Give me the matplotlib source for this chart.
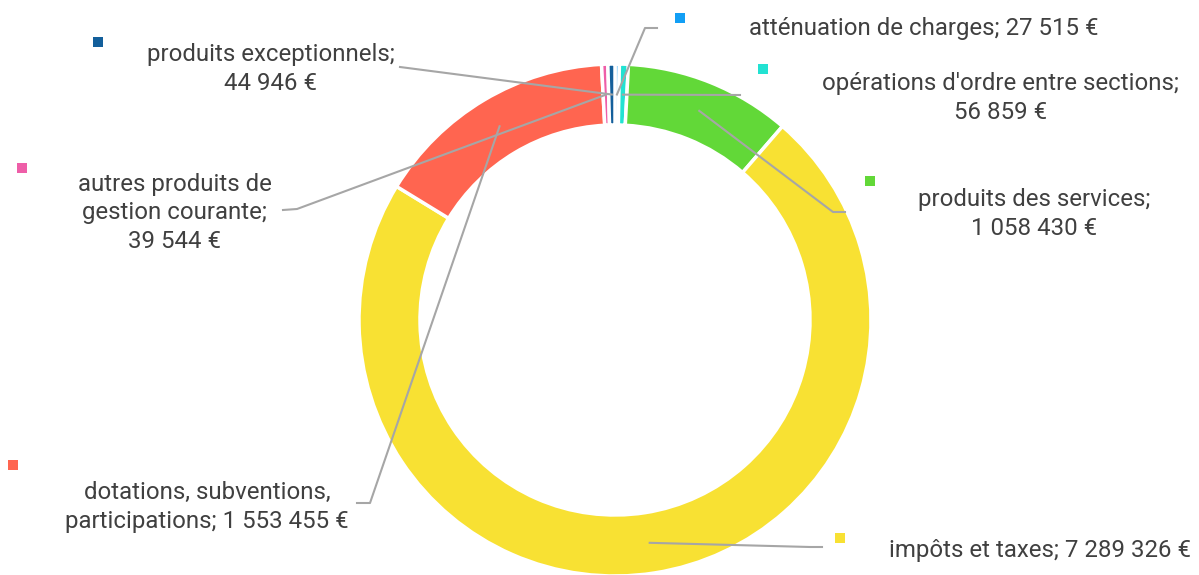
import numpy as np
import matplotlib.pyplot as plt

plt.rcParams['font.family'] = ['Roboto', 'DejaVu Sans']

# slices, clockwise from 12 o'clock
labels = ["atténuation de charges", "opérations d'ordre entre sections",
          "produits des services", "impôts et taxes",
          "dotations, subventions,\nparticipations", "autres produits de\ngestion courante",
          "produits exceptionnels"]
values = [27515, 56859, 1058430, 7289326, 1553455, 39544, 44946]
colors = ["#129ff5", "#22e2d2", "#62d838", "#f8e133", "#ff6550", "#ee5ea8", "#135f9b"]

# label layout (pixel coords, y from top)
text_pos = [(924, 29), (1001, 98), (1034, 214), (1040, 550), (207, 507), (175, 213), (271, 69)]
value_sep = ["; ", ";\n", ";\n", "; ", "; ", ";\n", ";\n"]
marker_pos = [(680, 18), (763, 69), (870, 181), (840, 538), (13, 465), (22, 168), (98, 42)]
line_start = [[(657, 28), (645, 28)], [(740, 95)], [(845, 212), (833, 212)],
              [(822, 547), (810, 547)], [(357, 503), (370, 503)],
              [(283, 210), (297, 209)], [(400, 67)]]

W, H = 1199, 575
cx, cy = 615, 320
r_out, r_in = 256, 195


def fmt(v):
    return f"{v:,}".replace(",", " ") + " €"


fig = plt.figure(figsize=(W / 100, H / 100), dpi=100)
ax = fig.add_axes([0, 0, 1, 1])

ax.pie(values, colors=colors, startangle=90, counterclock=False,
       center=(cx, H - cy), radius=r_out,
       wedgeprops=dict(width=r_out - r_in, edgecolor="white", linewidth=2.5))

total = sum(values)
cum = np.cumsum([0] + values) / total * 360
r_mid = (r_out + r_in) / 2
for i, lab in enumerate(labels):
    ang = np.radians((cum[i] + cum[i + 1]) / 2)
    ex = cx + r_mid * np.sin(ang)
    ey = cy - r_mid * np.cos(ang)
    pts = line_start[i] + [(ex, ey)]
    ax.plot([p[0] for p in pts], [H - p[1] for p in pts], color="#a6a6a6", lw=1.5, zorder=3)

    tx, ty = text_pos[i]
    ax.text(tx, H - ty, lab + value_sep[i] + fmt(values[i]), ha="center", va="center",
            fontsize=17.3, color="#404040", linespacing=1.3)
    mx, my = marker_pos[i]
    ax.scatter([mx], [H - my], marker="s", s=50, color=colors[i], linewidths=0)

ax.set_xlim(0, W)
ax.set_ylim(0, H)
ax.set_aspect("equal")
ax.set_axis_off()

fig.savefig("out.png", dpi=100)
